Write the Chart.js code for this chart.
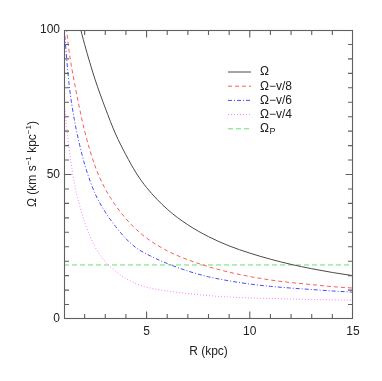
<!DOCTYPE html>
<html><head><meta charset="utf-8">
<script src="https://cdn.jsdelivr.net/npm/chart.js@4/dist/chart.umd.min.js"></script>
<style>html,body{margin:0;padding:0;background:#fff;}#wrap{position:relative;width:382px;height:381px;}</style>
</head><body><div id="wrap"><canvas id="c" width="382" height="381"></canvas></div>
<script>
// R (kpc)
const radii   = [1, 1.25, 1.5, 1.75, 2, 2.5, 3, 3.5, 4, 4.5, 5, 6, 7, 8, 9, 10, 11, 12, 13, 14, 15];
// Omega curves (km s^-1 kpc^-1)
const omega   = [130, 120, 111, 102, 95, 83, 73, 64, 56.8, 50.5, 45.5, 38, 32.6, 28.5, 25.3, 22.8, 20.7, 18.9, 17.4, 16.1, 15.0];
const omegaK8 = [108, 92.5, 82, 73, 65, 53, 45, 39.3, 34.7, 31, 28, 23.6, 20.5, 18.1, 16.2, 14.7, 13.5, 12.6, 11.9, 11.2, 10.7];
const omegaK6 = [101, 81, 69, 60.5, 53.5, 43.5, 37, 32, 27.8, 24.6, 22.5, 19.2, 16.6, 14.6, 13.2, 12.1, 11.3, 10.7, 10.2, 9.7, 9.3];
const omegaK4 = [75, 59, 47, 39.5, 33.5, 25, 19.8, 16.5, 14, 12.2, 11, 9.7, 8.8, 8.1, 7.6, 7.3, 7.1, 6.9, 6.75, 6.6, 6.5];
const omegaP  = 18.7;
const seriesNames = ['Ω', 'Ω−v/8', 'Ω−v/6', 'Ω−v/4', 'Ω'];
const xTickLabels = [5, 10, 15];
const yTickLabels = [0, 50, 100];
const xRange = [1, 15];
const yRange = [0, 100];
const xMinorStep = 1;
const yMinorStep = 5;

const pts = arr => radii.map((r, i) => ({x: r, y: arr[i]}));
const flat = v => [{x: xRange[0], y: v}, {x: xRange[1], y: v}];
const FONT = '"Liberation Sans", Arial, Helvetica, sans-serif';

const styles = [
  {color: '#4a4a4a', dash: []},
  {color: '#ff5a5a', dash: [4, 3]},
  {color: '#4848ff', dash: [4, 2, 1, 2]},
  {color: '#ff7cff', dash: [1, 2]},
  {color: '#6ede6e', dash: [5, 3]}
];
const seriesData = [pts(omega), pts(omegaK8), pts(omegaK6), pts(omegaK4), flat(omegaP)];
const datasets = seriesData.map((d, i) => ({
  label: seriesNames[i], data: d, borderColor: styles[i].color, borderDash: styles[i].dash,
  borderWidth: 1, pointRadius: 0, fill: false, cubicInterpolationMode: 'monotone', clip: 0
}));

const framePlugin = {
  id: 'frame',
  afterDraw(chart) {
    const ctx = chart.ctx;
    const a = chart.chartArea;
    const xs = chart.scales.x, ys = chart.scales.y;
    const L = Math.round(a.left) + 0.5, Rt = Math.round(a.right) - 0.5;
    const T = Math.round(a.top) + 0.5, B = Math.round(a.bottom) - 0.5;

    ctx.save();
    ctx.setLineDash([]);
    ctx.strokeStyle = '#606060';
    ctx.lineWidth = 1.1;
    ctx.strokeRect(L, T, Rt - L, B - T);
    ctx.beginPath();
    for (let v = xRange[0] + xMinorStep; v < xRange[1]; v += xMinorStep) {
      const px = xs.getPixelForValue(v);
      const len = (v % 5 === 0) ? 7 : 4.5;
      ctx.moveTo(px, B); ctx.lineTo(px, B - len);
      ctx.moveTo(px, T); ctx.lineTo(px, T + len);
    }
    for (let v = yRange[0] + yMinorStep; v < yRange[1]; v += yMinorStep) {
      const py = ys.getPixelForValue(v);
      const len = (v % 50 === 0) ? 7 : 4.5;
      ctx.moveTo(L, py); ctx.lineTo(L + len, py);
      ctx.moveTo(Rt, py); ctx.lineTo(Rt - len, py);
    }
    ctx.stroke();
    ctx.restore();

    // y axis title with superscripts
    ctx.save();
    ctx.fillStyle = '#222';
    ctx.translate(32, 164);
    ctx.rotate(-Math.PI / 2);
    const parts = [['Ω (km s', 12, 0], ['−1', 8, -5], [' kpc', 12, 0], ['−1', 8, -5], [')', 12, 0]];
    let w = 0;
    parts.forEach(p => { ctx.font = p[1] + 'px ' + FONT; w += ctx.measureText(p[0]).width; });
    let cx = -w / 2;
    ctx.textBaseline = 'alphabetic';
    parts.forEach(p => { ctx.font = p[1] + 'px ' + FONT; ctx.fillText(p[0], cx, 4 + p[2]); cx += ctx.measureText(p[0]).width; });
    ctx.restore();

    // legend
    const lx0 = a.left + 164, lx1 = a.left + 187, tx = a.left + 196;
    let ly = a.top + 42;
    chart.data.datasets.forEach((ds, i) => {
      ctx.save();
      ctx.strokeStyle = ds.borderColor;
      ctx.setLineDash(ds.borderDash);
      ctx.lineWidth = 1;
      ctx.beginPath();
      ctx.moveTo(lx0, ly); ctx.lineTo(lx1, ly);
      ctx.stroke();
      ctx.restore();
      ctx.save();
      ctx.fillStyle = '#222';
      ctx.font = '12px ' + FONT;
      ctx.textBaseline = 'middle';
      ctx.fillText(ds.label, tx, ly);
      if (i === 4) {
        const ww = ctx.measureText(ds.label).width;
        ctx.font = '9px ' + FONT;
        ctx.fillText('P', tx + ww + 0.5, ly + 3);
      }
      ctx.restore();
      ly += 14.2;
    });
  }
};

new Chart(document.getElementById('c'), {
  type: 'line',
  data: {datasets},
  options: {
    responsive: false, devicePixelRatio: 1, animation: false,
    layout: {padding: {left: 0, top: 30, right: 29, bottom: 0}},
    plugins: {legend: {display: false}, tooltip: {enabled: false}},
    scales: {
      x: {
        type: 'linear', min: xRange[0], max: xRange[1],
        grid: {display: false, drawTicks: false}, border: {display: false},
        afterBuildTicks: s => { s.ticks = xTickLabels.map(v => ({value: v})); },
        afterFit: s => { s.height = 62; },
        ticks: {padding: 5, color: '#222', font: {family: FONT, size: 12}, maxRotation: 0, autoSkip: false},
        title: {display: true, text: 'R (kpc)', color: '#222', font: {family: FONT, size: 12}, padding: {top: 0, bottom: 22}}
      },
      y: {
        type: 'linear', min: yRange[0], max: yRange[1],
        grid: {display: false, drawTicks: false}, border: {display: false},
        afterBuildTicks: s => { s.ticks = yTickLabels.map(v => ({value: v})); },
        afterFit: s => { s.width = 64; },
        ticks: {padding: 4, color: '#222', font: {family: FONT, size: 12}, autoSkip: false}
      }
    }
  },
  plugins: [framePlugin]
});
</script>
</body></html>
